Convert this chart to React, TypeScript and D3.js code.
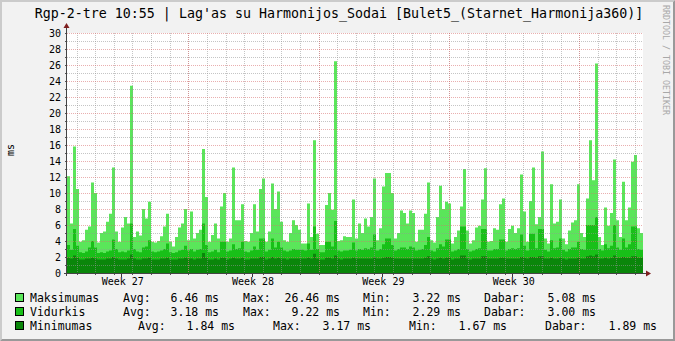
import React from "react";
import * as d3 from "d3";

const title = "Rgp-2-tre 10:55 | Lag'as su Harmonijos_Sodai [Bulet5_(Starnet_Harmonija360)]";
const yTicks = [0, 2, 4, 6, 8, 10, 12, 14, 16, 18, 20, 22, 24, 26, 28, 30];
const weekLabels = ["Week 27", "Week 28", "Week 29", "Week 30"];
const spanDays = 30.94;
const firstWeekStart = 6.515;

const maxVals = [
  12.1, 6.2, 15.8, 10.5, 3.9, 4.1, 5.4, 5.8, 11.3, 10.0,
  3.8, 5.0, 5.2, 6.4, 7.4, 13.2, 5.2, 3.9, 5.7, 7.0,
  6.2, 23.4, 4.5, 5.2, 4.7, 8.0, 6.8, 8.9, 3.9, 3.8,
  4.0, 4.6, 5.8, 7.4, 3.9, 3.3, 4.5, 5.7, 6.2,
  8.0, 4.1, 7.7, 4.3, 5.0, 5.4, 15.5, 9.5, 3.9, 4.75,
  6.2, 4.3, 8.3, 10.0, 3.9, 4.3, 13.2, 6.6, 6.6, 8.6,
  4.0, 3.9, 5.0, 8.6, 5.2, 10.5, 11.8, 3.9, 5.2, 11.2,
  8.0, 10.2, 6.4, 4.1, 3.9, 5.0, 6.6, 6.0, 5.4,
  3.7, 3.7, 8.7, 4.5, 16.6, 4.9, 3.5, 3.5, 8.5, 10.0,
  7.9, 26.46, 4.0, 4.1, 4.6, 4.5, 4.5, 9.2, 4.3, 6.2,
  5.0, 6.8, 5.8, 7.0, 11.8, 4.1, 5.6, 10.8, 12.5, 12.5,
  10.0, 4.3, 5.0, 7.8, 7.5, 6.2, 7.8, 7.5,
  3.9, 5.4, 5.4, 7.4, 11.3, 4.1, 3.8, 7.0, 10.9, 8.0,
  8.9, 8.7, 3.7, 4.5, 5.3, 8.3, 13.0, 5.3, 3.7, 4.1,
  5.7, 5.9, 9.2, 13.1, 3.9, 4.0, 5.6, 5.4, 8.6, 9.3,
  3.9, 5.5, 5.9, 5.0, 5.6, 12.3, 7.7, 3.9, 9.0,
  13.2, 6.1, 7.0, 15.2, 4.3, 3.7, 11.1, 6.2, 6.4, 9.2,
  4.3, 3.6, 5.3, 6.3, 6.6, 11.1, 5.0, 4.5, 9.3, 16.6,
  11.6, 26.2, 4.5, 3.5, 8.2, 5.9, 7.5, 14.2, 6.6, 4.5,
  11.4, 6.6, 8.2, 13.9, 14.75, 5.6, 5.0,
];

const avgVals = [
  3.5, 2.9, 5.5, 3.4, 2.6, 2.5, 2.7, 3.2, 4.0, 3.2,
  2.5, 2.6, 2.5, 2.7, 2.8, 4.2, 3.0, 2.6, 2.7, 2.6,
  2.8, 6.2, 3.0, 2.7, 2.6, 3.2, 3.3, 4.1, 2.7, 2.6,
  2.7, 2.8, 3.0, 3.7, 2.6, 2.5, 2.6, 2.8, 2.9,
  3.4, 2.8, 3.0, 2.7, 2.9, 3.0, 6.2, 3.5, 2.6, 2.7,
  2.9, 2.6, 3.9, 3.9, 2.7, 2.8, 3.6, 3.0, 3.1, 3.9,
  2.7, 2.6, 2.8, 3.3, 2.9, 4.3, 4.3, 2.7, 2.9, 4.3,
  3.2, 3.9, 3.2, 2.8, 2.7, 2.8, 3.0, 2.9, 2.9,
  2.9, 2.8, 3.7, 2.9, 5.8, 3.0, 2.6, 2.6, 3.9, 3.9,
  3.3, 6.5, 2.8, 2.7, 2.8, 2.8, 2.9, 3.8, 2.8, 3.0,
  2.9, 3.1, 3.0, 3.2, 4.8, 2.8, 3.0, 3.6, 4.3, 4.3,
  3.5, 2.8, 3.0, 3.2, 3.2, 3.0, 3.3, 3.2,
  2.8, 2.9, 3.0, 3.5, 4.5, 2.8, 2.7, 3.1, 3.6, 3.3,
  4.2, 4.2, 2.7, 2.8, 3.0, 5.8, 5.8, 3.0, 2.7, 2.8,
  3.0, 3.1, 5.5, 5.5, 2.8, 2.8, 3.0, 3.0, 4.2, 4.2,
  2.8, 3.0, 3.1, 3.0, 3.1, 4.8, 3.4, 2.8, 4.9,
  4.9, 3.1, 5.5, 5.5, 2.9, 2.7, 4.1, 3.1, 3.2, 4.3,
  2.9, 2.7, 3.0, 3.2, 3.2, 3.9, 3.0, 2.9, 6.0, 6.0,
  6.0, 7.0, 3.0, 2.8, 3.6, 3.1, 3.4, 6.0, 3.2, 2.9,
  4.3, 3.2, 3.6, 5.8, 5.8, 3.0, 2.9,
];

const minVals = [
  1.9, 1.8, 2.2, 1.9, 1.7, 1.7, 1.8, 1.8, 1.9, 1.8,
  1.7, 1.7, 1.7, 1.8, 1.8, 2.0, 1.8, 1.7, 1.7, 1.7,
  1.8, 2.3, 1.8, 1.7, 1.7, 1.8, 1.8, 1.9, 1.7, 1.7,
  1.7, 1.8, 1.8, 1.9, 1.7, 1.7, 1.7, 1.8, 1.8,
  1.9, 1.8, 1.8, 1.7, 1.8, 1.8, 2.5, 1.9, 1.7, 1.7,
  1.8, 1.7, 1.9, 1.9, 1.7, 1.8, 1.9, 1.8, 1.8, 1.9,
  1.7, 1.7, 1.8, 1.8, 1.8, 2.0, 2.0, 1.7, 1.8, 2.0,
  1.8, 1.9, 1.8, 1.8, 1.7, 1.8, 1.8, 1.8, 1.8,
  1.8, 1.8, 1.9, 1.8, 2.4, 1.8, 1.7, 1.7, 1.9, 1.9,
  1.8, 2.2, 1.8, 1.7, 1.8, 1.8, 1.8, 1.9, 1.8, 1.8,
  1.8, 1.8, 1.8, 1.8, 2.0, 1.8, 1.8, 1.9, 2.0, 2.0,
  1.9, 1.8, 1.8, 1.8, 1.8, 1.8, 1.8, 1.8,
  1.8, 1.8, 1.8, 1.9, 2.1, 1.8, 1.7, 1.8, 1.9, 1.8,
  1.9, 1.9, 1.7, 1.8, 1.8, 2.2, 2.2, 1.8, 1.7, 1.8,
  1.8, 1.8, 2.1, 2.1, 1.8, 1.8, 1.8, 1.8, 1.9, 1.9,
  1.8, 1.8, 1.8, 1.8, 1.8, 2.0, 1.9, 1.8, 2.0,
  2.0, 1.9, 2.1, 2.1, 1.8, 1.8, 1.9, 1.8, 1.8, 1.9,
  1.8, 1.7, 1.8, 1.8, 1.8, 1.9, 1.8, 1.8, 2.1, 2.2,
  2.1, 2.3, 1.8, 1.8, 1.9, 1.8, 1.9, 2.2, 1.9, 1.9,
  2.0, 1.9, 1.9, 2.1, 2.1, 1.9, 1.9,
];

const legendNames = ["Maksimumas", "Vidurkis", "Minimumas"];
const legendAvg = ["6.46 ms", "3.18 ms", "1.84 ms"];
const legendMax = ["26.46 ms", "9.22 ms", "3.17 ms"];
const legendMin = ["3.22 ms", "2.29 ms", "1.67 ms"];
const legendNow = ["5.08 ms", "3.00 ms", "1.89 ms"];

const COLORS = ["#5ae65a", "#18c018", "#0a860a"];
const MONO = "'DejaVu Sans Mono', monospace";

export default function App() {
  const W = 675, H = 341;
  const left = 67, right = 643, bottom = 273, top = 33;
  const x = d3.scaleLinear().domain([0, spanDays]).range([left, right]);
  const y = d3.scaleLinear().domain([0, 30]).range([bottom, top]);
  const n = maxVals.length;
  const dt = spanDays / n;

  const area = d3
    .area<number>()
    .x((_, i) => x(i * dt))
    .y0(y(0))
    .y1((d) => y(d))
    .curve(d3.curveStepAfter);
  const path = (vals: number[]) => area([...vals, vals[vals.length - 1]]) || "";

  const minorY = d3.range(1, 31);
  const dayLines: number[] = [];
  for (let d = firstWeekStart - 6; d < spanDays; d += 1) dayLines.push(d);
  const weekLines = [0, 1, 2, 3].map((k) => firstWeekStart + 7 * k);
  const labelPos = weekLines.map((w) => w - 3.6);

  const gridMinor = "rgba(150,150,150,0.55)";
  const gridMajor = "rgba(215,110,110,0.55)";
  const arrow = "#7f1f1f";

  const rowY = [302, 316, 330];
  const rows = [
    { avgL: 123, avgV: 219, maxL: 243, maxV: 340, minL: 363, minV: 461, nowL: 484, nowV: 596 },
    { avgL: 123, avgV: 219, maxL: 243, maxV: 340, minL: 363, minV: 461, nowL: 484, nowV: 596 },
    { avgL: 138, avgV: 235, maxL: 273, maxV: 371, minL: 409, minV: 507, nowL: 545, nowV: 657 },
  ];

  return (
    <svg
      width={W}
      height={H}
      style={{ position: "absolute", left: 0, top: 0, display: "block" }}
      fontFamily={MONO}
    >
      <rect x={0} y={0} width={W} height={H} fill="#f2f2f2" />
      <polygon points={`0,0 ${W},0 ${W - 2},2 2,2 2,${H - 2} 0,${H}`} fill="#cbcbcb" />
      <polygon points={`${W},0 ${W},${H} 0,${H} 2,${H - 2} ${W - 2},${H - 2} ${W - 2},2`} fill="#999999" />

      <text x={339} y={18} fontSize={13.3} textAnchor="middle" fill="#000">
        {title}
      </text>

      <rect x={left} y={top} width={right - left} height={bottom - top} fill="#ffffff" />

      <path d={path(maxVals)} fill={COLORS[0]} />
      <path d={path(avgVals)} fill={COLORS[1]} />
      <path d={path(minVals)} fill={COLORS[2]} />

      {minorY.filter((v) => v % 2 !== 0).map((v) => (
        <line key={"my" + v} x1={left} x2={right} y1={y(v) + 0.5} y2={y(v) + 0.5}
          stroke={gridMinor} strokeDasharray="1,1" />
      ))}
      {dayLines.map((d, i) => (
        <line key={"dx" + i} x1={Math.round(x(d)) + 0.5} x2={Math.round(x(d)) + 0.5} y1={top} y2={bottom}
          stroke={gridMinor} strokeDasharray="1,1" />
      ))}
      {yTicks.filter((v) => v > 0).map((v) => (
        <line key={"My" + v} x1={left} x2={right} y1={y(v) + 0.5} y2={y(v) + 0.5}
          stroke={gridMajor} strokeDasharray="1,1" />
      ))}
      {weekLines.map((d, i) => (
        <line key={"wx" + i} x1={Math.round(x(d)) + 0.5} x2={Math.round(x(d)) + 0.5} y1={top} y2={bottom}
          stroke={gridMajor} strokeDasharray="1,1" />
      ))}

      {minorY.map((v) => (
        <line key={"ty" + v} x1={left - 2} x2={left} y1={y(v) + 0.5} y2={y(v) + 0.5} stroke="#555" />
      ))}
      {dayLines.map((d, i) => (
        <line key={"tx" + i} x1={Math.round(x(d)) + 0.5} x2={Math.round(x(d)) + 0.5} y1={bottom} y2={bottom + 2} stroke="#555" />
      ))}
      {labelPos.map((d, i) => (
        <line key={"lx" + i} x1={Math.round(x(d)) + 0.5} x2={Math.round(x(d)) + 0.5} y1={bottom} y2={bottom + 4} stroke="#333" />
      ))}

      <line x1={left - 0.5} x2={left - 0.5} y1={bottom + 3} y2={top - 6} stroke="#444" />
      <line x1={left - 3} x2={right + 5} y1={bottom + 0.5} y2={bottom + 0.5} stroke="#444" />
      <polygon points={`${left - 3.5},${top - 5} ${left + 2.5},${top - 5} ${left - 0.5},${top - 10}`} fill={arrow} />
      <polygon points={`${right + 3},${bottom - 2.5} ${right + 3},${bottom + 3.5} ${right + 8},${bottom + 0.5}`} fill={arrow} />

      {yTicks.map((v) => (
        <text key={"yl" + v} x={61} y={y(v)} dy="0.36em" fontSize={10} textAnchor="end" fill="#000">
          {v}
        </text>
      ))}
      {weekLabels.map((t, i) => (
        <text key={"wl" + i} x={x(labelPos[i]) + 1.5} y={285} fontSize={10} textAnchor="middle" fill="#000">
          {t}
        </text>
      ))}
      <text transform="translate(14,150) rotate(-90)" fontSize={10} textAnchor="middle" fill="#000">
        ms
      </text>
      <text transform="translate(663,60) rotate(90)" fontSize={8.3} textAnchor="middle" fill="#a8a8a8">
        RRDTOOL / TOBI OETIKER
      </text>

      {legendNames.map((name, i) => {
        const r = rows[i];
        const yy = rowY[i];
        return (
          <g key={"lg" + i} fontSize={11.5} fill="#000">
            <rect x={15.5} y={yy - 8.5} width={8} height={8} fill={COLORS[i]} stroke="#000" />
            <text x={30} y={yy}>{name}</text>
            <text x={r.avgL} y={yy}>Avg:</text>
            <text x={r.avgV} y={yy} textAnchor="end">{legendAvg[i]}</text>
            <text x={r.maxL} y={yy}>Max:</text>
            <text x={r.maxV} y={yy} textAnchor="end">{legendMax[i]}</text>
            <text x={r.minL} y={yy}>Min:</text>
            <text x={r.minV} y={yy} textAnchor="end">{legendMin[i]}</text>
            <text x={r.nowL} y={yy}>Dabar:</text>
            <text x={r.nowV} y={yy} textAnchor="end">{legendNow[i]}</text>
          </g>
        );
      })}
    </svg>
  );
}
